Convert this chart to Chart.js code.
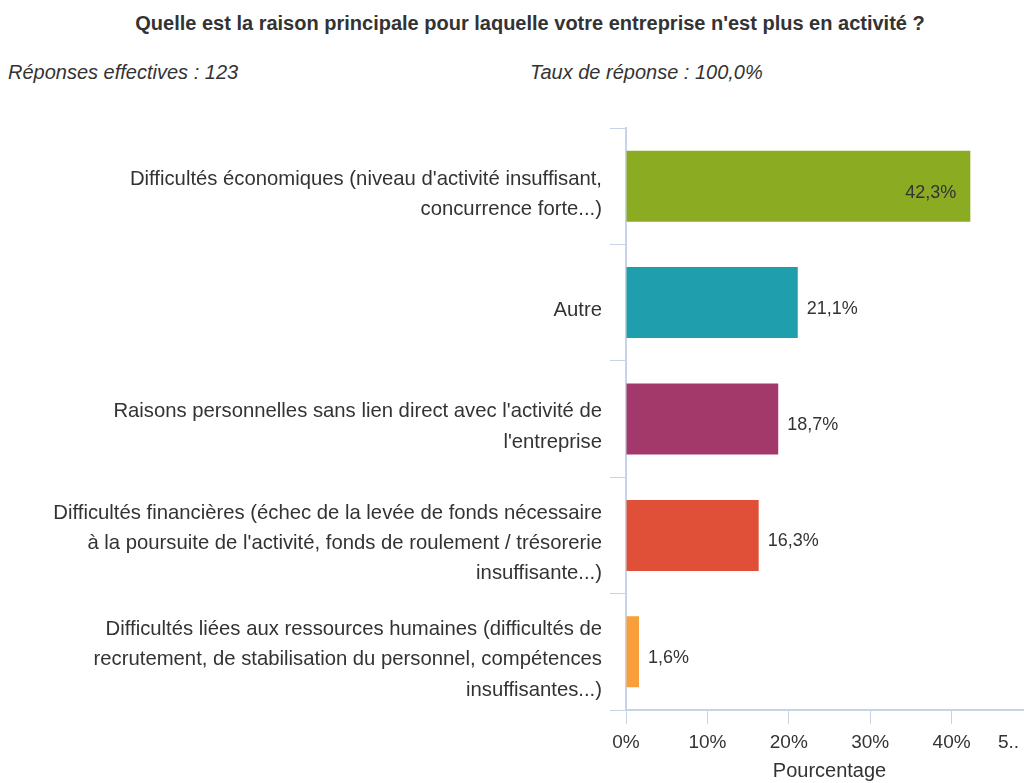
<!DOCTYPE html>
<html>
<head>
<meta charset="utf-8">
<script src="https://cdn.jsdelivr.net/npm/chart.js@4/dist/chart.umd.min.js"></script>
<style>
  html, body { margin: 0; padding: 0; background: #fff; overflow: hidden; }
  body { width: 1024px; height: 783px; position: relative; font-family: "Liberation Sans", Arial, sans-serif; color: #333; }
  #title { position: absolute; left: 0; top: 11px; width: 1060px; text-align: center; font-weight: bold; font-size: 20px; line-height: 24px; }
  .meta { position: absolute; top: 60px; font-style: italic; font-size: 20px; line-height: 24px; color: #333; }
  #wrap { position: absolute; left: 0; top: 100px; width: 1040px; height: 683px; }
</style>
</head>
<body>
<div id="title">Quelle est la raison principale pour laquelle votre entreprise n'est plus en activité ?</div>
<div class="meta" style="left:8px">Réponses effectives : 123</div>
<div class="meta" style="left:530px">Taux de réponse : 100,0%</div>
<div id="wrap"><canvas id="chart" width="1040" height="683"></canvas></div>
<script>
const labels = [
  ["Difficultés économiques (niveau d'activité insuffisant,", "concurrence forte...)"],
  "Autre",
  ["Raisons personnelles sans lien direct avec l'activité de", "l'entreprise"],
  ["Difficultés financières (échec de la levée de fonds nécessaire", "à la poursuite de l'activité, fonds de roulement / trésorerie", "insuffisante...)"],
  ["Difficultés liées aux ressources humaines (difficultés de", "recrutement, de stabilisation du personnel, compétences", "insuffisantes...)"]
]
const values = [42.3, 21.1, 18.7, 16.3, 1.6]
const barColors = ['#8bac22', '#1f9eae', '#a3386a', '#e04f38', '#f89e3a']
const xTicks = [0, 10, 20, 30, 40, 50]

const AXIS = '#c6d4ea'
const FONT = '"Liberation Sans", Arial, sans-serif'
const fmt = v => v.toFixed(1).replace('.', ',') + '%'

const valueLabels = {
  id: 'valueLabels',
  afterDatasetsDraw(chart) {
    const { ctx, chartArea } = chart
    const meta = chart.getDatasetMeta(0)
    ctx.save()
    ctx.font = '18px ' + FONT
    ctx.fillStyle = '#333'
    ctx.textBaseline = 'middle'
    meta.data.forEach((bar, i) => {
      const txt = fmt(values[i])
      const w = ctx.measureText(txt).width
      if (bar.x + 10 + w > chartArea.right - 20) {
        ctx.textAlign = 'right'
        ctx.fillText(txt, bar.x - 14, bar.y + 7)
      } else {
        ctx.textAlign = 'left'
        ctx.fillText(txt, bar.x + 9, bar.y + 6)
      }
    })
    // last x tick label is cut off in the original
    const xs = chart.scales.x
    ctx.font = '19px ' + FONT
    ctx.textAlign = 'left'
    ctx.fillText('5..', xs.getPixelForValue(50) - 35, xs.top + 33)
    ctx.restore()
  }
}

new Chart(document.getElementById('chart'), {
  type: 'bar',
  data: {
    labels: labels,
    datasets: [{ data: values, backgroundColor: barColors, borderWidth: 0, categoryPercentage: 1, barPercentage: 0.61 }]
  },
  options: {
    responsive: false, animation: false,
    indexAxis: 'y',
    layout: { padding: { top: 28, right: 7, left: 0, bottom: 0 } },
    plugins: { legend: { display: false }, tooltip: { enabled: false } },
    scales: {
      y: {
        grid: { drawOnChartArea: false, tickLength: 16, color: AXIS, offset: true },
        border: { color: AXIS, width: 2 },
        ticks: { color: '#333', padding: 8, labelOffset: 8, font: { family: FONT, size: 20.3, lineHeight: 1.5 } },
        afterFit: s => { s.width = 626; s.paddingTop = 0; s.paddingBottom = 0 }
      },
      x: {
        min: 0, max: 50,
        afterBuildTicks: s => { s.ticks = xTicks.map(v => ({ value: v })) },
        grid: { drawOnChartArea: false, tickLength: 14, color: AXIS },
        border: { color: AXIS, width: 2 },
        ticks: { color: '#333', padding: 7, maxRotation: 0, font: { family: FONT, size: 19 }, callback: v => v === 50 ? '' : v + '%' },
        title: { display: true, text: 'Pourcentage', color: '#333', font: { family: FONT, size: 20 }, padding: { top: 0, bottom: 0 } },
        afterFit: s => { s.height = 73 }
      }
    }
  },
  plugins: [valueLabels]
})
</script>
</body>
</html>
